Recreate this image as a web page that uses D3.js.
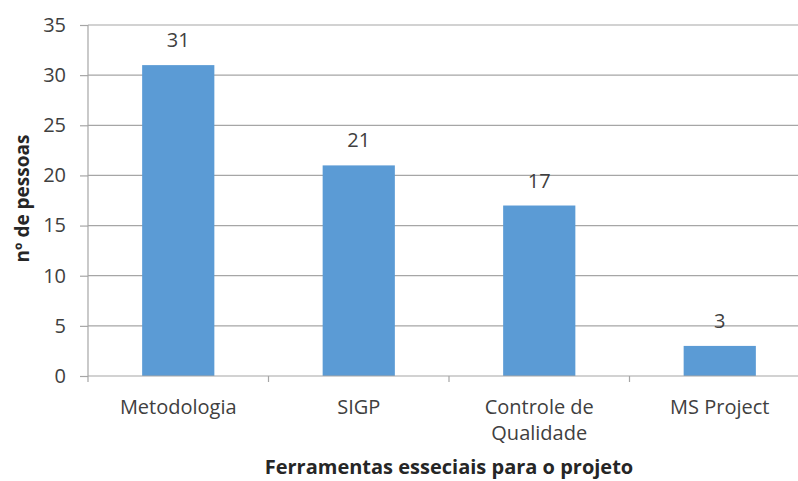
<!DOCTYPE html>
<html><head><meta charset="utf-8">
<script src="https://cdn.jsdelivr.net/npm/d3@7"></script>
<style>body{margin:0;background:#fff}svg{display:block}</style>
</head><body>
<script>
const categories = [["Metodologia"], ["SIGP"], ["Controle de", "Qualidade"], ["MS Project"]];
const values = [31, 21, 17, 3];
const yTicks = [0, 5, 10, 15, 20, 25, 30, 35];
const xTitle = "Ferramentas esseciais para o projeto";
const yTitle = "nº de pessoas";

(function () {
const W = 798, H = 481;
const font = "'Open Sans', Lato, sans-serif";
const svg = d3.select("body").append("svg").attr("width", W).attr("height", H);
const mLeft = 88, mTop = 25, mBottom = 376, mRight = 810;
const keys = categories.map(c => c.join(" "));
const x = d3.scaleBand().domain(keys).range([mLeft, mRight]).paddingInner(0.6).paddingOuter(0.3);
const y = d3.scaleLinear().domain([0, 35]).range([mBottom, mTop]);

// gridlines
svg.append("g").selectAll("line").data(yTicks.filter(t => t > 0)).join("line")
  .attr("x1", mLeft).attr("x2", W).attr("y1", d => y(d)).attr("y2", d => y(d))
  .attr("stroke", "#a6a6a6").attr("stroke-width", 1.2);

// y axis
const ya = svg.append("g").attr("transform", `translate(${mLeft},0)`)
  .call(d3.axisLeft(y).tickValues(yTicks).tickSize(8).tickPadding(14));
ya.select(".domain").attr("stroke", "#a6a6a6").attr("stroke-width", 1.2).attr("d", `M0,${mTop}V${mBottom}`);
ya.selectAll(".tick line").attr("stroke", "#a6a6a6").attr("stroke-width", 1.2);
ya.selectAll("text").attr("font-family", font).attr("font-size", 20).attr("fill", "#404040");

// bars
svg.append("g").selectAll("rect").data(values).join("rect")
  .attr("x", (d, i) => x(keys[i])).attr("width", x.bandwidth())
  .attr("y", d => y(d)).attr("height", d => y(0) - y(d))
  .attr("fill", "#5b9bd5");

// x axis
const xa = svg.append("g").attr("transform", `translate(0,${mBottom})`);
xa.append("line").attr("x1", mLeft).attr("x2", W).attr("stroke", "#a6a6a6").attr("stroke-width", 1.2);
const step = x.step();
const bounds = d3.range(keys.length + 1).map(i => mLeft + i * step);
xa.selectAll("line.t").data(bounds).join("line").attr("class", "t")
  .attr("x1", d => d).attr("x2", d => d).attr("y1", 0).attr("y2", 6)
  .attr("stroke", "#a6a6a6").attr("stroke-width", 1.2);
categories.forEach((c, i) => {
  const cx = x(keys[i]) + x.bandwidth() / 2;
  const t = xa.append("text").attr("text-anchor", "middle").attr("font-family", font)
    .attr("font-size", 20).attr("fill", "#404040").attr("x", cx).attr("y", 38);
  c.forEach((line, j) => t.append("tspan").attr("x", cx).attr("dy", j ? 26 : 0).text(line));
});

// value labels
svg.append("g").selectAll("text").data(values).join("text")
  .attr("x", (d, i) => x(keys[i]) + x.bandwidth() / 2).attr("y", d => y(d) - 18)
  .attr("text-anchor", "middle").attr("font-family", font).attr("font-size", 20)
  .attr("fill", "#404040").text(d => d);

// titles
svg.append("text").attr("x", (mLeft + mRight) / 2).attr("y", 474).attr("text-anchor", "middle")
  .attr("font-family", font).attr("font-size", 20).attr("font-weight", "bold").attr("fill", "#262626").text(xTitle);
svg.append("text").attr("transform", `translate(29,${(mTop + mBottom) / 2 - 2}) rotate(-90)`).attr("text-anchor", "middle")
  .attr("font-family", font).attr("font-size", 19).attr("font-weight", "bold").attr("fill", "#262626").text(yTitle);
})();
</script>
</body></html>
